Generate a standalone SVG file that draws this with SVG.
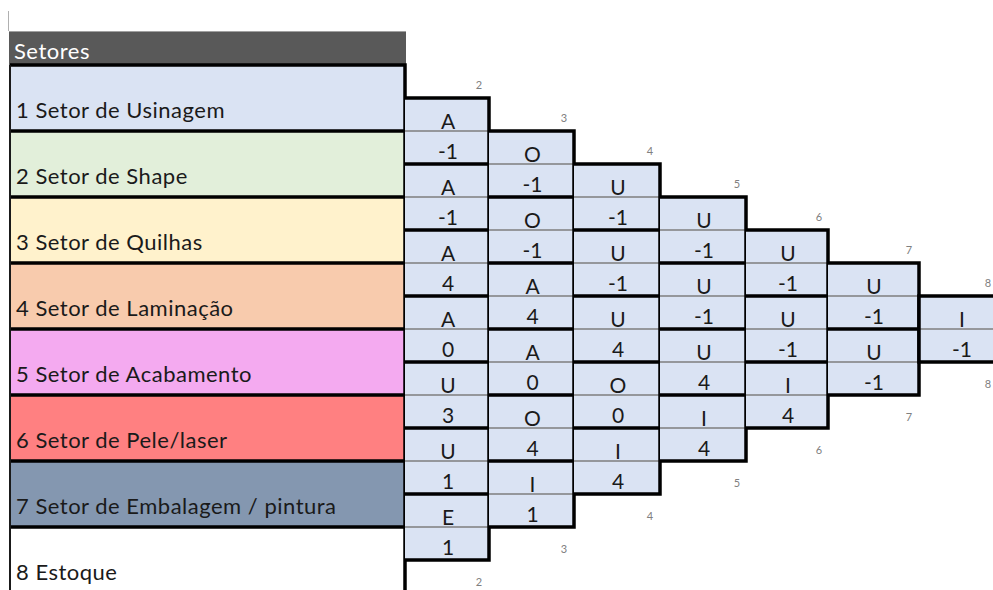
<svg xmlns="http://www.w3.org/2000/svg" width="993" height="590" viewBox="0 0 993 590">
<style>
.lbl{font-family:Lato,"Open Sans",sans-serif;font-size:22px;letter-spacing:0.5px;fill:#1a1a1a}
.hdr{font-family:Lato,"Open Sans",sans-serif;font-size:22px;letter-spacing:0.5px;fill:#ffffff}
.v{font-family:Lato,"Open Sans",sans-serif;font-size:21px;fill:#1a1a1a;text-anchor:middle}
.n{font-family:Lato,"Open Sans",sans-serif;font-size:11px;fill:#808080;text-anchor:middle}
.cell{fill:#DAE3F3}
.thin{stroke:#7f7f7f;stroke-width:1.5}
.thick{fill:none;stroke:#000;stroke-width:3.5}
</style>
<rect width="993" height="590" fill="#fff"/>
<line x1="8.5" y1="11" x2="8.5" y2="31" stroke="#b0b0b0" stroke-width="1"/>
<g id="header">
<rect x="9" y="31" width="397" height="34" fill="#595959"/>
<line x1="9" y1="31.5" x2="406" y2="31.5" stroke="#a0a0a0" stroke-width="1"/>
<text class="hdr" x="14" y="59">Setores</text>
</g>
<g id="sectors">
<g id="s1"><rect x="10" y="65" width="395" height="66" fill="#DAE3F3"/><text class="lbl" x="16" y="118">1 Setor de Usinagem</text></g>
<g id="s2"><rect x="10" y="131" width="395" height="66" fill="#E2EFDA"/><text class="lbl" x="16" y="184">2 Setor de Shape</text></g>
<g id="s3"><rect x="10" y="197" width="395" height="66" fill="#FFF2CC"/><text class="lbl" x="16" y="250">3 Setor de Quilhas</text></g>
<g id="s4"><rect x="10" y="263" width="395" height="66" fill="#F8CBAD"/><text class="lbl" x="16" y="316">4 Setor de Laminação</text></g>
<g id="s5"><rect x="10" y="329" width="395" height="66" fill="#F4AAF0"/><text class="lbl" x="16" y="382">5 Setor de Acabamento</text></g>
<g id="s6"><rect x="10" y="395" width="395" height="66" fill="#FF8081"/><text class="lbl" x="16" y="448">6 Setor de Pele/laser</text></g>
<g id="s7"><rect x="10" y="461" width="395" height="66" fill="#8497B0"/><text class="lbl" x="16" y="514">7 Setor de Embalagem / pintura</text></g>
<g id="s8"><rect x="10" y="527" width="395" height="70" fill="#FFFFFF"/><text class="lbl" x="16" y="580">8 Estoque</text></g>
<path class="thick" d="M10 65H405V600M10 131H405M10 197H405M10 263H405M10 329H405M10 395H405M10 461H405M10 527H405"/>
<line x1="10" y1="65" x2="10" y2="600" stroke="#1a1a1a" stroke-width="2"/>
</g>
<g id="matrix">
<g id="col1">
<rect class="cell" x="405" y="98" width="84" height="462"/>
<path class="thin" d="M405 131H489M405 197H489M405 263H489M405 329H489M405 395H489M405 461H489M405 527H489"/>
<path class="thick" d="M405 98H489V560H405M405 164H489M405 230H489M405 296H489M405 362H489M405 428H489M405 494H489"/>
<text class="v" x="448" y="128.5">A</text><text class="v" x="448" y="158.5">-1</text>
<text class="v" x="448" y="194.5">A</text><text class="v" x="448" y="224.5">-1</text>
<text class="v" x="448" y="260.5">A</text><text class="v" x="448" y="290.5">4</text>
<text class="v" x="448" y="326.5">A</text><text class="v" x="448" y="356.5">0</text>
<text class="v" x="448" y="392.5">U</text><text class="v" x="448" y="422.5">3</text>
<text class="v" x="448" y="458.5">U</text><text class="v" x="448" y="488.5">1</text>
<text class="v" x="448" y="524.5">E</text><text class="v" x="448" y="554.5">1</text>
</g>
<g id="col2">
<rect class="cell" x="489" y="131" width="85" height="396"/>
<path class="thin" d="M489 164H574M489 230H574M489 296H574M489 362H574M489 428H574M489 494H574"/>
<path class="thick" d="M489 131H574V527H489M489 197H574M489 263H574M489 329H574M489 395H574M489 461H574"/>
<text class="v" x="532.5" y="161.5">O</text><text class="v" x="532.5" y="191.5">-1</text>
<text class="v" x="532.5" y="227.5">O</text><text class="v" x="532.5" y="257.5">-1</text>
<text class="v" x="532.5" y="293.5">A</text><text class="v" x="532.5" y="323.5">4</text>
<text class="v" x="532.5" y="359.5">A</text><text class="v" x="532.5" y="389.5">0</text>
<text class="v" x="532.5" y="425.5">O</text><text class="v" x="532.5" y="455.5">4</text>
<text class="v" x="532.5" y="491.5">I</text><text class="v" x="532.5" y="521.5">1</text>
</g>
<g id="col3">
<rect class="cell" x="574" y="164" width="86" height="330"/>
<path class="thin" d="M574 197H660M574 263H660M574 329H660M574 395H660M574 461H660"/>
<path class="thick" d="M574 164H660V494H574M574 230H660M574 296H660M574 362H660M574 428H660"/>
<text class="v" x="618" y="194.5">U</text><text class="v" x="618" y="224.5">-1</text>
<text class="v" x="618" y="260.5">U</text><text class="v" x="618" y="290.5">-1</text>
<text class="v" x="618" y="326.5">U</text><text class="v" x="618" y="356.5">4</text>
<text class="v" x="618" y="392.5">O</text><text class="v" x="618" y="422.5">0</text>
<text class="v" x="618" y="458.5">I</text><text class="v" x="618" y="488.5">4</text>
</g>
<g id="col4">
<rect class="cell" x="660" y="197" width="86" height="264"/>
<path class="thin" d="M660 230H746M660 296H746M660 362H746M660 428H746"/>
<path class="thick" d="M660 197H746V461H660M660 263H746M660 329H746M660 395H746"/>
<text class="v" x="704" y="227.5">U</text><text class="v" x="704" y="257.5">-1</text>
<text class="v" x="704" y="293.5">U</text><text class="v" x="704" y="323.5">-1</text>
<text class="v" x="704" y="359.5">U</text><text class="v" x="704" y="389.5">4</text>
<text class="v" x="704" y="425.5">I</text><text class="v" x="704" y="455.5">4</text>
</g>
<g id="col5">
<rect class="cell" x="746" y="230" width="82" height="198"/>
<path class="thin" d="M746 263H828M746 329H828M746 395H828"/>
<path class="thick" d="M746 230H828V428H746M746 296H828M746 362H828"/>
<text class="v" x="788" y="260.5">U</text><text class="v" x="788" y="290.5">-1</text>
<text class="v" x="788" y="326.5">U</text><text class="v" x="788" y="356.5">-1</text>
<text class="v" x="788" y="392.5">I</text><text class="v" x="788" y="422.5">4</text>
</g>
<g id="col6">
<rect class="cell" x="828" y="263" width="91" height="132"/>
<path class="thin" d="M828 296H919M828 362H919"/>
<path class="thick" d="M828 263H919V395H828M828 329H919"/>
<text class="v" x="874" y="293.5">U</text><text class="v" x="874" y="323.5">-1</text>
<text class="v" x="874" y="359.5">U</text><text class="v" x="874" y="389.5">-1</text>
</g>
<g id="col7">
<rect class="cell" x="919" y="296" width="90" height="66"/>
<path class="thin" d="M919 329H1009"/>
<path class="thick" d="M1009 296H919V362H1009"/>
<text class="v" x="962" y="326.5">I</text><text class="v" x="962" y="356.5">-1</text>
</g>
</g>
<g id="indices">
<text class="n" x="479" y="89">2</text>
<text class="n" x="564" y="122">3</text>
<text class="n" x="650" y="155">4</text>
<text class="n" x="737" y="188">5</text>
<text class="n" x="819" y="221">6</text>
<text class="n" x="909" y="254">7</text>
<text class="n" x="988" y="287">8</text>
<text class="n" x="988" y="388">8</text>
<text class="n" x="909" y="421">7</text>
<text class="n" x="819" y="454">6</text>
<text class="n" x="737" y="487">5</text>
<text class="n" x="650" y="520">4</text>
<text class="n" x="564" y="553">3</text>
<text class="n" x="479" y="586">2</text>
</g>
</svg>
